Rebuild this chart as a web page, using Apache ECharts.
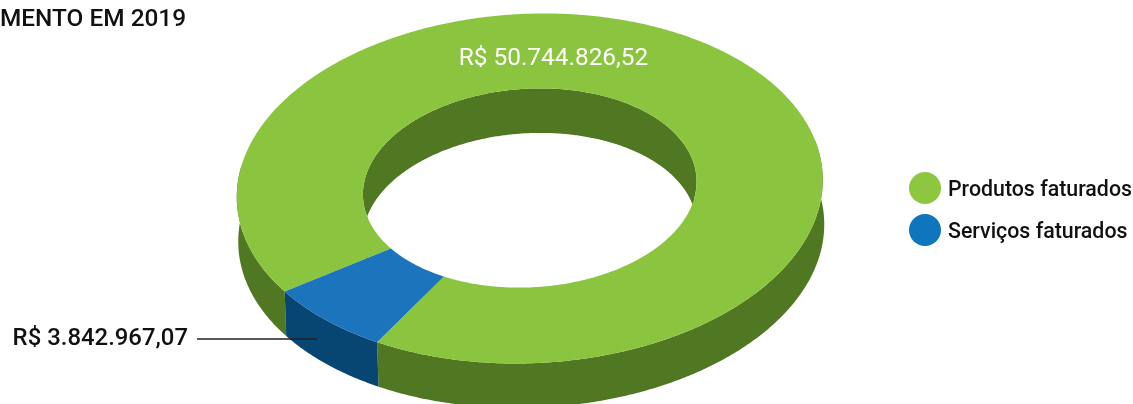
<!DOCTYPE html>
<html><head><meta charset="utf-8">
<style>html,body{margin:0;padding:0;background:#fff}#c{width:1133px;height:404px}</style>
<script src="https://cdn.jsdelivr.net/npm/echarts@6/dist/echarts.min.js"></script>
</head><body><div id="c"></div>
<script>
const categories = ['Produtos faturados', 'Serviços faturados'];
const values = [50744826.52, 3842967.07];
const valueLabels = ['R$ 50.744.826,52', 'R$ 3.842.967,07'];
const topColors = ['#8BC53F', '#1C75BC'];
const sideColors = ['#507722', '#074573'];
const legendColors = ['#8DC63F', '#0F75BC'];
const titleText = 'MENTO EM 2019';

const START = 148.3, CX = 529.75, CY = 188.5, DEPTH = 44.5, DRIFT = 1.5;
const OUTER = { a: 293.2, b: 174.7, tilt: -2.6 * Math.PI / 180 };
const INNER = { a: 167, b: 99.3, tilt: -3.4 * Math.PI / 180, cy: -0.5 };
const total = values.reduce((a, b) => a + b, 0);

function arc(e, a, b, dx, dy) {
  const pts = [], n = Math.max(2, Math.ceil(Math.abs(b - a) * 2));
  const c = Math.cos(e.tilt), s = Math.sin(e.tilt);
  for (let i = 0; i <= n; i++) {
    const t = (a + (b - a) * i / n) * Math.PI / 180;
    const x = e.a * Math.cos(t), y = e.b * Math.sin(t);
    pts.push([CX + dx + x * c - y * s, CY + (e.cy || 0) + dy + x * s + y * c]);
  }
  return pts;
}
function visible(a, b, from) {
  const out = [];
  for (let k = -1; k < 3; k++) {
    const s = Math.max(a, from - 12 + 360 * k), e = Math.min(b, from + 192 + 360 * k);
    if (e > s) out.push([s, e]);
  }
  return out;
}
function wall(e, s, t, dx, color) {
  return { type: 'polygon', shape: { points: arc(e, s, t, 0, 0).concat(arc(e, t, s, dx, DEPTH)) }, style: { fill: color } };
}
function sliceRenderer(idx) {
  return function (params, api) {
    const before = values.slice(0, idx).reduce((x, y) => x + y, 0);
    const a = START + before / total * 360;
    const b = a + api.value(0) / total * 360;
    const children = [];
    visible(a, b, 180).forEach(r => children.push(wall(INNER, r[0], r[1], 0, sideColors[idx])));
    visible(a, b, 0).forEach(r => children.push(wall(OUTER, r[0], r[1], DRIFT, sideColors[idx])));
    children.push({ type: 'polygon', shape: { points: arc(OUTER, a, b, 0, 0).concat(arc(INNER, b, a, 0, 0)) }, style: { fill: topColors[idx] } });
    if (idx === 0) {
      children.push({ type: 'text', style: { x: 553.5, y: 59, text: valueLabels[0], fill: '#fff', font: '400 24.4px Roboto', align: 'center', verticalAlign: 'middle' } });
    } else {
      const mid = arc(OUTER, (a + b) / 2, (a + b) / 2, 0, 0)[0];
      const ex = mid[0] - 9, ey = Math.round(mid[1] + 19);
      children.push({ type: 'line', shape: { x1: 197, y1: ey, x2: ex, y2: ey }, style: { stroke: '#222', lineWidth: 1.3 } });
      children.push({ type: 'text', style: { x: 188, y: ey, text: valueLabels[1], fill: '#111', font: '500 23.9px Roboto', align: 'right', verticalAlign: 'middle' } });
    }
    return { type: 'group', children };
  };
}

const chart = echarts.init(document.getElementById('c'), null, { renderer: 'canvas' });
chart.setOption({
  animation: false,
  backgroundColor: '#fff',
  legend: {
    orient: 'vertical', left: 909, top: 172, padding: 0, itemWidth: 32, itemHeight: 32, itemGap: 10,
    icon: 'circle', data: categories,
    formatter: '{a|{name}}',
    textStyle: {
      rich: { a: { fontFamily: 'Roboto', fontSize: 21.35, fontWeight: 500, color: '#111', padding: [5, 0, 0, 2] } }
    }
  },
  graphic: [{ type: 'text', left: 0, top: 8, style: { text: titleText, fill: '#111', font: '500 24.4px Roboto' } }],
  series: categories.map((name, i) => ({
    type: 'custom', name, coordinateSystem: 'none', data: [[values[i]]],
    itemStyle: { color: legendColors[i] }, renderItem: sliceRenderer(i), silent: true
  }))
});
</script></body></html>
